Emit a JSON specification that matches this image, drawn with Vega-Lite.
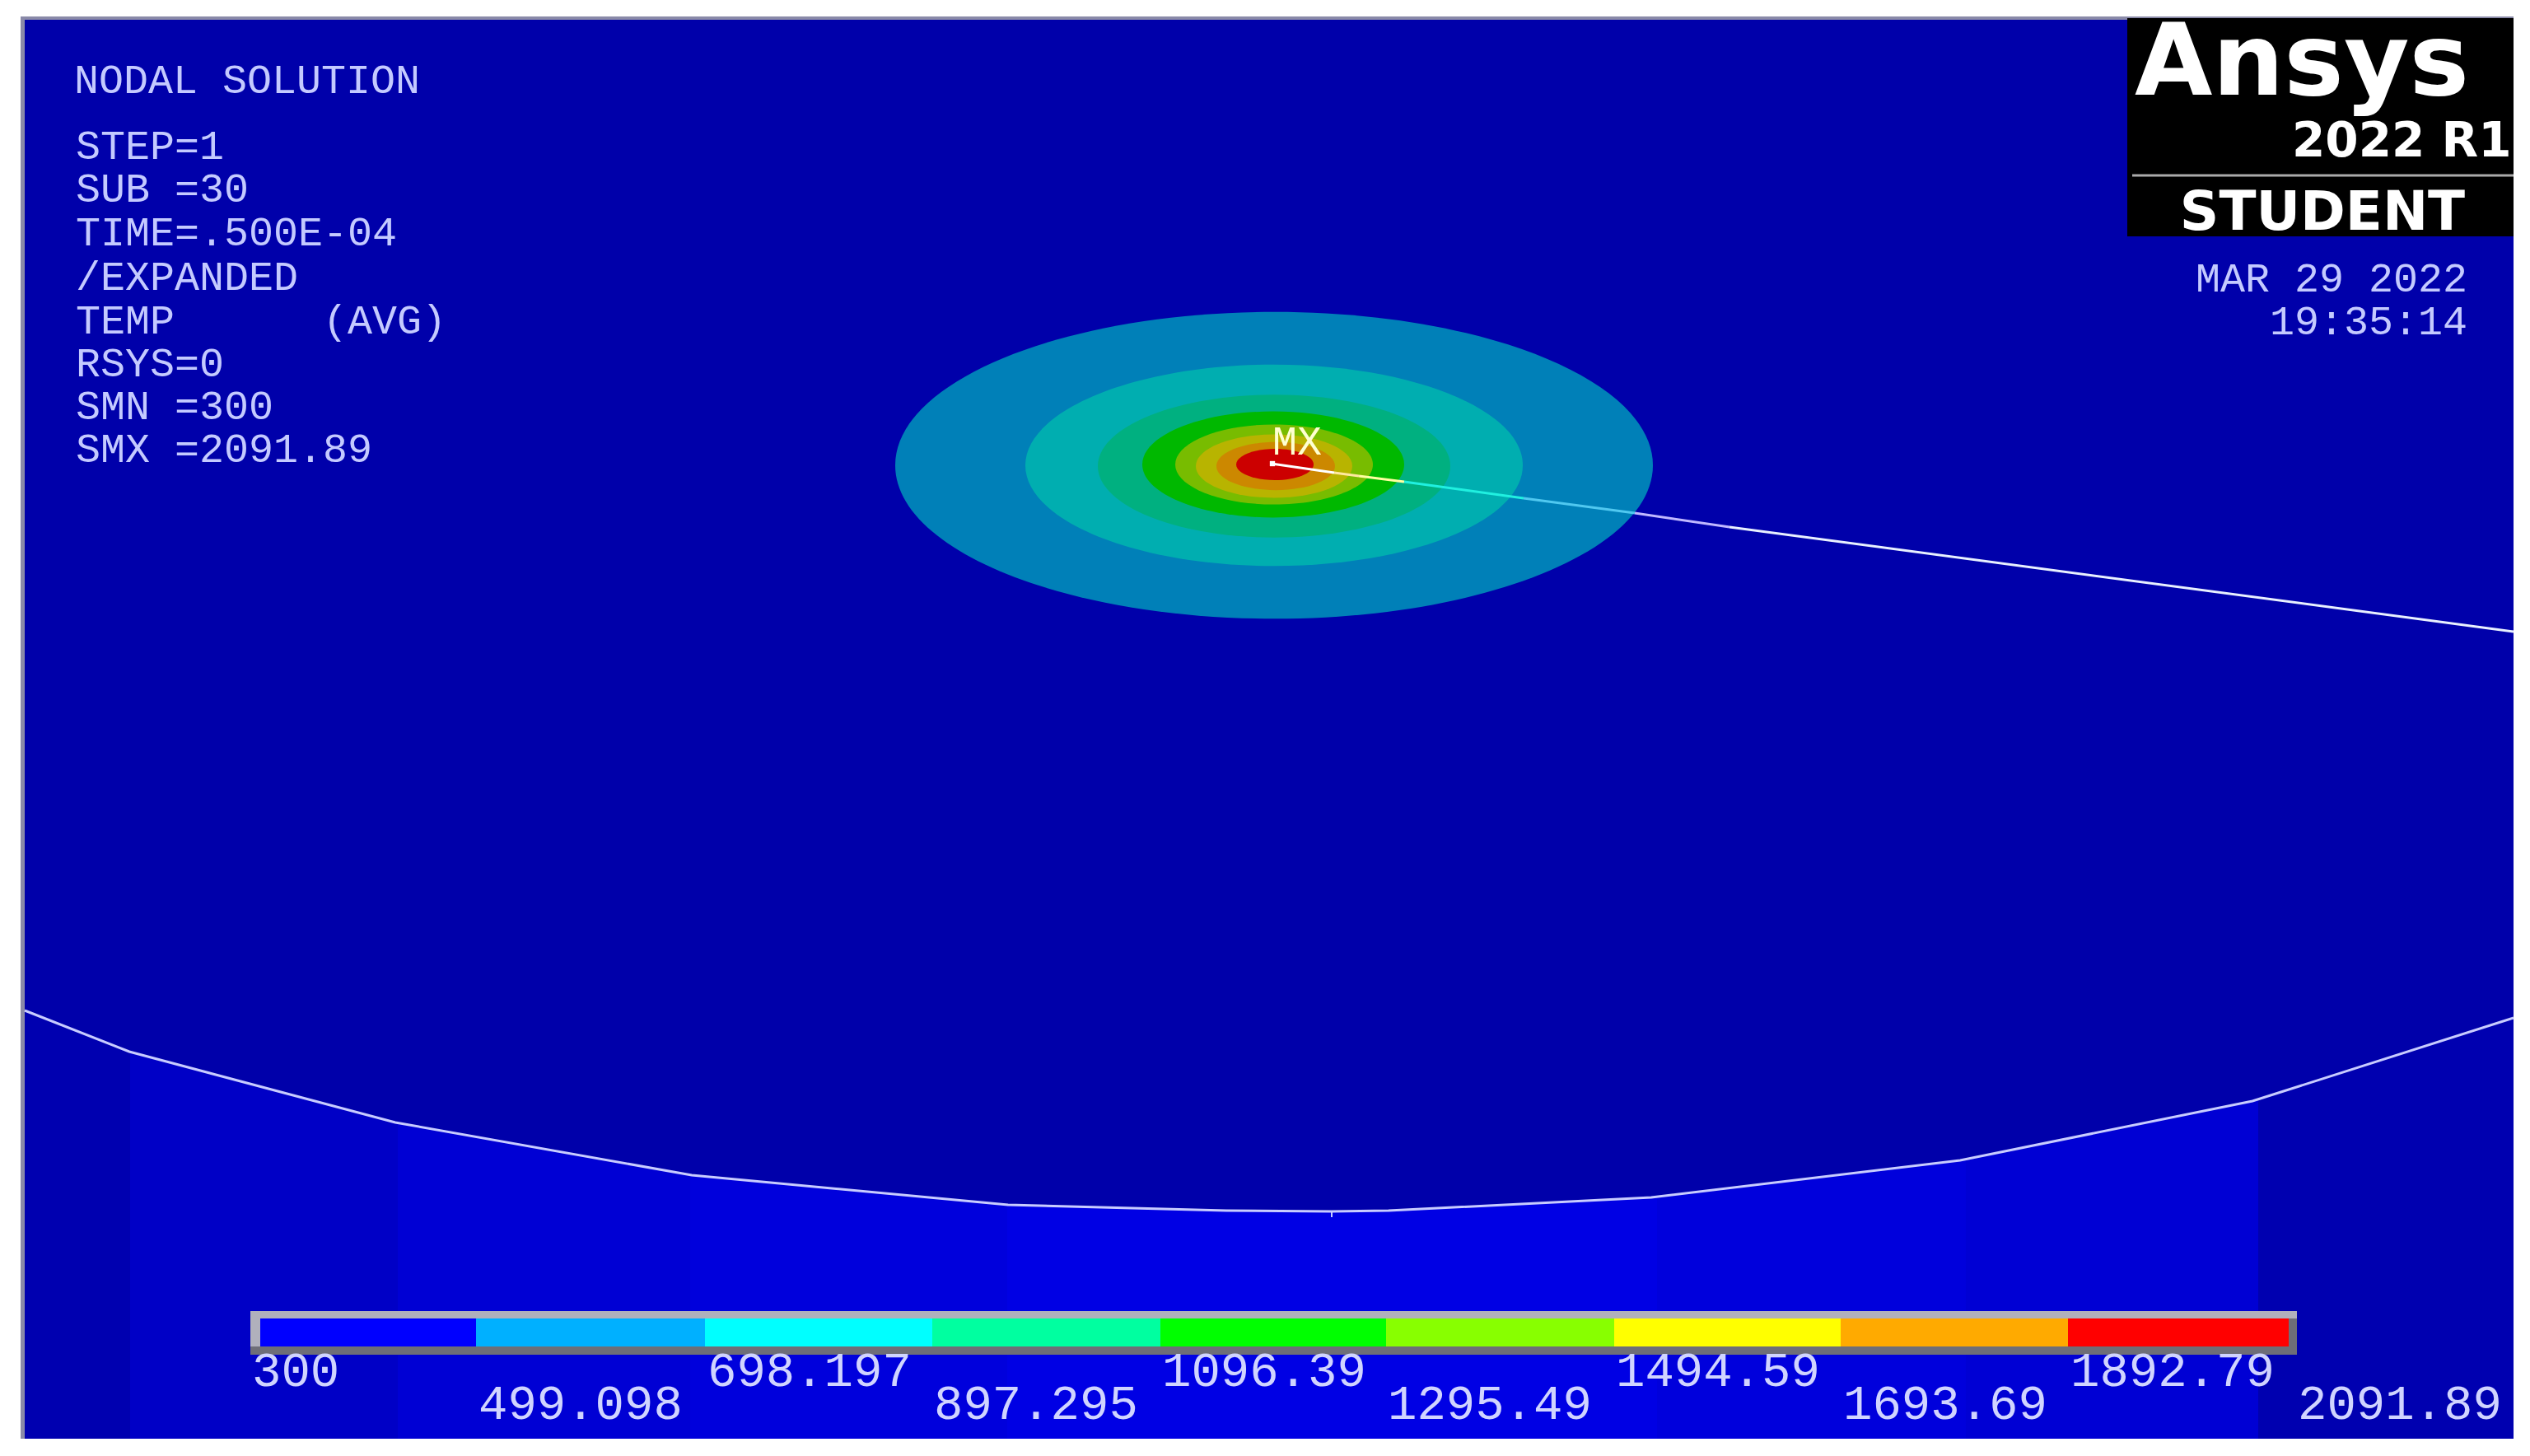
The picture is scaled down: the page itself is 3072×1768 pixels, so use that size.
{
"$schema":"https://vega.github.io/schema/vega-lite/v6.json",
"width":3072,"height":1768,"padding":0,"autosize":{"type":"fit","contains":"padding"},
"background":"#ffffff",
"config":{"view":{"stroke":null}},
"datasets":{
"panels":[
{"part":"frame","x0":25,"x1":3052,"y0":20,"y1":1747},
{"part":"field","x0":30,"x1":3052,"y0":24,"y1":1747},
{"part":"b1","x0":30,"x1":158,"y0":1200,"y1":1747},
{"part":"b2","x0":158,"x1":483,"y0":1200,"y1":1747},
{"part":"b3","x0":483,"x1":838,"y0":1200,"y1":1747},
{"part":"b4","x0":838,"x1":1223,"y0":1200,"y1":1747},
{"part":"b5","x0":1223,"x1":2012,"y0":1200,"y1":1747},
{"part":"b4","x0":2012,"x1":2387,"y0":1200,"y1":1747},
{"part":"b3","x0":2387,"x1":2742,"y0":1200,"y1":1747},
{"part":"b1","x0":2742,"x1":3052,"y0":1200,"y1":1747}
],
"curve":[
{"x":30,"y":1227,"top":1190},{"x":157,"y":1277,"top":1190},{"x":480,"y":1363,"top":1190},{"x":840,"y":1427,"top":1190},{"x":1224,"y":1463,"top":1190},{"x":1489,"y":1470,"top":1190},{"x":1617,"y":1471,"top":1190},{"x":1686,"y":1470,"top":1190},{"x":2005,"y":1454,"top":1190},{"x":2380,"y":1409,"top":1190},{"x":2735,"y":1337,"top":1190},{"x":3052,"y":1236,"top":1190}
],
"contours":[
{"part":"c1","cx":1547,"cy":565,"rx":460},
{"part":"c2","cx":1547,"cy":565,"rx":302},
{"part":"c3","cx":1547,"cy":566,"rx":214},
{"part":"c4","cx":1546,"cy":564,"rx":159},
{"part":"c5","cx":1547,"cy":564,"rx":120},
{"part":"c6","cx":1547,"cy":566,"rx":95},
{"part":"c7","cx":1549,"cy":566,"rx":72},
{"part":"c8","cx":1548,"cy":564,"rx":47}
],
"probe":[
{"part":"l1","x":1544,"y":563,"x2":1620,"y2":574},
{"part":"l2","x":1620,"y":574,"x2":1650,"y2":578},
{"part":"l3","x":1650,"y":578,"x2":1705,"y2":585},
{"part":"l4","x":1705,"y":585,"x2":1850,"y2":605},
{"part":"l5","x":1850,"y":605,"x2":1985,"y2":623},
{"part":"l6","x":1985,"y":623,"x2":2100,"y2":640},
{"part":"l7","x":2100,"y":640,"x2":3052,"y2":767}
],
"scale":[
{"part":"black","x0":2583,"x1":3052,"y0":22,"y1":287},
{"part":"barTop","x0":304,"x1":2789,"y0":1592,"y1":1601},
{"part":"barBottom","x0":304,"x1":2789,"y0":1635,"y1":1645},
{"part":"barTop","x0":304,"x1":316,"y0":1601,"y1":1635},
{"part":"barBottom","x0":2779,"x1":2789,"y0":1601,"y1":1635},
{"part":"t1","x0":316,"x1":578,"y0":1601,"y1":1635},
{"part":"t2","x0":578,"x1":856,"y0":1601,"y1":1635},
{"part":"t3","x0":856,"x1":1132,"y0":1601,"y1":1635},
{"part":"t4","x0":1132,"x1":1409,"y0":1601,"y1":1635},
{"part":"t5","x0":1409,"x1":1683,"y0":1601,"y1":1635},
{"part":"t6","x0":1683,"x1":1960,"y0":1601,"y1":1635},
{"part":"t7","x0":1960,"x1":2235,"y0":1601,"y1":1635},
{"part":"t8","x0":2235,"x1":2511,"y0":1601,"y1":1635},
{"part":"t9","x0":2511,"x1":2779,"y0":1601,"y1":1635}
],
"ticks":[{"x":305},{"x":578},{"x":856},{"x":1132},{"x":1409},{"x":1683},{"x":1960},{"x":2235},{"x":2511},{"x":2789}],
"info":[
{"label":"NODAL SOLUTION","x":90,"y":113},
{"label":"STEP=1","x":92,"y":193},
{"label":"SUB =30","x":92,"y":245},
{"label":"TIME=.500E-04","x":92,"y":298},
{"label":"/EXPANDED","x":92,"y":352},
{"label":"TEMP\u00a0\u00a0\u00a0\u00a0\u00a0\u00a0(AVG)","x":92,"y":405},
{"label":"RSYS=0","x":92,"y":457},
{"label":"SMN =300","x":92,"y":509},
{"label":"SMX =2091.89","x":92,"y":561}
],
"stamp":[{"label":"MAR 29 2022","x":2996,"y":354},{"label":"19:35:14","x":2996,"y":406}],
"values":[
{"label":"300","x":306,"y":1683},{"label":"499.098","x":581,"y":1723},{"label":"698.197","x":859,"y":1683},{"label":"897.295","x":1134,"y":1723},{"label":"1096.39","x":1411,"y":1683},{"label":"1295.49","x":1685,"y":1723},{"label":"1494.59","x":1962,"y":1683},{"label":"1693.69","x":2238,"y":1723},{"label":"1892.79","x":2514,"y":1683},{"label":"2091.89","x":2790,"y":1723}
]
},
"encoding":{
"x":{"field":"x","type":"quantitative","scale":{"domain":[0,3072],"nice":false,"zero":false},"axis":null},
"y":{"field":"y","type":"quantitative","scale":{"domain":[0,1768],"reverse":true,"nice":false,"zero":false},"axis":null}
},
"layer":[
{"data":{"name":"panels"},"mark":{"type":"rect"},
"encoding":{"x":{"field":"x0","type":"quantitative"},"x2":{"field":"x1"},"y":{"field":"y0","type":"quantitative"},"y2":{"field":"y1"},
"fill":{"field":"part","type":"nominal","legend":null,"scale":{"domain":["frame","field","b1","b2","b3","b4","b5","c1","c2","c3","c4","c5","c6","c7","c8","black","barTop","barBottom","t1","t2","t3","t4","t5","t6","t7","t8","t9"],"range":["#8a8aa8","#0000aa","#0000b0","#0000c6","#0000d4","#0000dc","#0000e4","#0080b8","#00aeb0","#00b080","#00b800","#78bc00","#b8b400","#cc8800","#cc0000","#000000","#b0b0bc","#6e6e78","#0000ff","#00b0ff","#00ffff","#00ffa0","#00ff00","#88ff00","#ffff00","#ffaa00","#ff0000"]}}}},
{"data":{"name":"curve"},"mark":{"type":"area","color":"#0000aa"},"encoding":{"y2":{"field":"top"}}},
{"data":{"name":"curve"},"mark":{"type":"line","color":"#c8ccff","strokeWidth":3},"encoding":{}},
{"data":{"values":[{"x":1617,"y":1470,"y2":1478}]},"mark":{"type":"rule","color":"#c8ccff","strokeWidth":2},"encoding":{"y2":{"field":"y2"}}},
{"data":{"name":"contours"},"mark":{"type":"point","filled":true,"opacity":1,"shape":"M-1,0 A1,0.405 0 1,1 1,0 A1,0.405 0 1,1 -1,0 Z"},
"encoding":{"x":{"field":"cx","type":"quantitative"},"y":{"field":"cy","type":"quantitative"},
"size":{"field":"rx","type":"quantitative","legend":null,"scale":{"type":"pow","exponent":2,"domain":[0,460],"range":[0,846400]}},
"fill":{"field":"part","type":"nominal","legend":null}}},
{"data":{"name":"probe"},"mark":{"type":"rule","strokeWidth":3},
"encoding":{"x2":{"field":"x2"},"y2":{"field":"y2"},
"stroke":{"field":"part","type":"nominal","legend":null,"scale":{"domain":["l1","l2","l3","l4","l5","l6","l7"],"range":["#ffffff","#ffe8a0","#ffffa0","#20f0e0","#50c8f0","#c0b8ff","#e8f0ff"]}}}},
{"data":{"values":[{"x":1545,"y":563}]},"mark":{"type":"point","filled":true,"opacity":1,"color":"#ffffff","shape":"square","size":40},"encoding":{}},
{"data":{"name":"scale"},"mark":{"type":"rect"},
"encoding":{"x":{"field":"x0","type":"quantitative"},"x2":{"field":"x1"},"y":{"field":"y0","type":"quantitative"},"y2":{"field":"y1"},
"fill":{"field":"part","type":"nominal","legend":null}}},
{"data":{"name":"ticks"},"mark":{"type":"rule","color":"#d0d4ff","strokeWidth":2},"encoding":{"y":{"datum":1645},"y2":{"datum":1652}}},
{"data":{"name":"info"},"mark":{"type":"text","align":"left","baseline":"alphabetic","font":"Liberation Mono","fontSize":50,"color":"#c4caff"},"encoding":{"text":{"field":"label"}}},
{"data":{"name":"stamp"},"mark":{"type":"text","align":"right","baseline":"alphabetic","font":"Liberation Mono","fontSize":50,"color":"#c4caff"},"encoding":{"text":{"field":"label"}}},
{"data":{"name":"values"},"mark":{"type":"text","align":"left","baseline":"alphabetic","font":"Liberation Mono","fontSize":59,"color":"#d0d4ff"},"encoding":{"text":{"field":"label"}}},
{"data":{"values":[{"label":"MX","x":1545,"y":552}]},"mark":{"type":"text","align":"left","baseline":"alphabetic","font":"Liberation Mono","fontSize":50,"color":"#ffffd0"},"encoding":{"text":{"field":"label"}}},
{"data":{"values":[{"label":"Ansys","x":2592,"y":115}]},"mark":{"type":"text","align":"left","baseline":"alphabetic","font":"DejaVu Sans","fontWeight":"bold","fontSize":122,"color":"#ffffff"},"encoding":{"text":{"field":"label"}}},
{"data":{"values":[{"label":"2022 R1","x":2783,"y":190}]},"mark":{"type":"text","align":"left","baseline":"alphabetic","font":"DejaVu Sans","fontWeight":"bold","fontSize":58,"color":"#ffffff"},"encoding":{"text":{"field":"label"}}},
{"data":{"values":[{"x":2589,"x2":3052,"y":213}]},"mark":{"type":"rule","color":"#aaaaaa","strokeWidth":3},"encoding":{"x2":{"field":"x2"}}},
{"data":{"values":[{"label":"STUDENT","x":2820,"y":279}]},"mark":{"type":"text","align":"center","baseline":"alphabetic","font":"DejaVu Sans","fontWeight":"bold","fontSize":66,"color":"#ffffff"},"encoding":{"text":{"field":"label"}}}
]
}
